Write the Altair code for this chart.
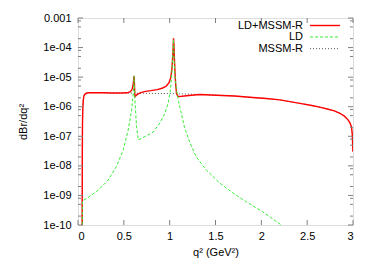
import altair as alt
import pandas as pd

# ---------------- data ----------------
q_total = [0.045, 0.047, 0.049, 0.053, 0.057, 0.063, 0.071, 0.086, 0.111, 0.171,
           0.270, 0.369, 0.468, 0.537, 0.572, 0.589, 0.599, 0.605, 0.609, 0.612,
           0.615, 0.618, 0.622, 0.629, 0.646, 0.686, 0.736, 0.795, 0.864, 0.924,
           0.964, 0.993, 1.013, 1.025, 1.035, 1.042, 1.047, 1.052, 1.058, 1.065,
           1.075, 1.092, 1.132, 1.211, 1.330, 1.509, 1.707, 1.905, 2.054, 2.203,
           2.421, 2.550, 2.649, 2.718, 2.797, 2.857, 2.906, 2.946, 2.968, 2.983,
           2.992, 2.999]
v_total = [1e-11, 3e-8, 3e-7, 9e-7, 1.6e-6, 2.2e-6, 2.55e-6, 2.8e-6, 2.95e-6, 3.0e-6,
           2.95e-6, 2.9e-6, 2.9e-6, 2.95e-6, 3.2e-6, 3.8e-6, 5e-6, 7e-6, 1.0e-5, 1.1e-5,
           7e-6, 3.5e-6, 2.2e-6, 2.3e-6, 2.6e-6, 3.0e-6, 3.3e-6, 3.5e-6, 3.8e-6, 4.3e-6,
           5e-6, 6.5e-6, 1e-5, 2e-5, 6e-5, 2.05e-4, 1.2e-4, 4e-5, 1.5e-5, 6e-6,
           2.8e-6, 2.2e-6, 2.25e-6, 2.4e-6, 2.6e-6, 2.45e-6, 2.3e-6, 2.05e-6, 1.9e-6, 1.7e-6,
           1.3e-6, 1.1e-6, 9.5e-7, 8.4e-7, 7.2e-7, 6e-7, 4.8e-7, 3.6e-7, 2.8e-7, 2.1e-7,
           1.2e-7, 3e-8]

q_ld = [0.045, 0.048, 0.057, 0.094, 0.220, 0.329, 0.418, 0.494, 0.547, 0.585,
        0.603, 0.611, 0.621, 0.639, 0.657, 0.676, 0.730, 0.821, 0.893, 0.948,
        0.983, 1.009, 1.025, 1.036, 1.042, 1.048, 1.056, 1.075, 1.097, 1.122,
        1.162, 1.221, 1.291, 1.400, 1.548, 1.692, 1.836, 2.014, 2.218, 2.401]
v_ld = [1e-11, 6e-10, 6.8e-10, 7.9e-10, 1.5e-9, 3.3e-9, 9.4e-9, 3.5e-8, 1.6e-7, 7.7e-7,
        2.8e-6, 1.1e-5, 1.7e-6, 2.1e-7, 7.6e-8, 8e-8, 9.8e-8, 1.4e-7, 2.8e-7, 6e-7,
        1.3e-6, 3.7e-6, 1.6e-5, 7e-5, 1.9e-4, 5e-5, 1.2e-5, 3.7e-6, 1.5e-6, 7e-7,
        2e-7, 6e-8, 2e-8, 7.2e-9, 2.6e-9, 1.2e-9, 6.1e-10, 2.8e-10, 1e-10, 4.5e-11]

q_mssm = [0.045, 0.047, 0.049, 0.053, 0.057, 0.063, 0.071, 0.086, 0.111, 0.171,
          0.270, 0.369, 0.468, 0.56, 0.66, 0.76, 0.86, 0.96, 1.06, 1.16,
          1.26, 1.33, 1.509, 1.707, 1.905, 2.054, 2.203, 2.421, 2.550, 2.649,
          2.718, 2.797, 2.857, 2.906, 2.946, 2.968, 2.983, 2.992, 2.999]
v_mssm = [1e-11, 3e-8, 3e-7, 9e-7, 1.6e-6, 2.2e-6, 2.55e-6, 2.8e-6, 2.95e-6, 3.0e-6,
          2.95e-6, 2.9e-6, 2.9e-6, 2.9e-6, 2.85e-6, 2.85e-6, 2.8e-6, 2.8e-6, 2.75e-6, 2.7e-6,
          2.65e-6, 2.6e-6, 2.45e-6, 2.3e-6, 2.05e-6, 1.9e-6, 1.7e-6, 1.3e-6, 1.1e-6, 9.5e-7,
          8.4e-7, 7.2e-7, 6e-7, 4.8e-7, 3.6e-7, 2.8e-7, 2.1e-7, 1.2e-7, 3e-8]

x_ticks = [0, 0.5, 1, 1.5, 2, 2.5, 3]
y_ticks = [1e-3, 1e-4, 1e-5, 1e-6, 1e-7, 1e-8, 1e-9, 1e-10]
y_labels = ["0.001", "1e-04", "1e-05", "1e-06", "1e-07", "1e-08", "1e-09", "1e-10"]
y_minor = [8e-4, 5e-4, 2e-4, 8e-5, 5e-5, 2e-5, 8e-6, 5e-6, 2e-6, 8e-7, 5e-7, 2e-7,
           8e-8, 5e-8, 2e-8, 8e-9, 5e-9, 2e-9, 8e-10, 5e-10, 2e-10]
legend_names = ["LD+MSSM-R", "LD", "MSSM-R"]
x_title = "q² (GeV²)"
y_title = "dBr/dq²"

# ---------------- chart ----------------
W, H = 275, 207
FONT = "Liberation Sans"
GRAY = "#808080"
RED = "#ff0000"
GREEN = "#33ee33"
DARK = "#555555"

xs = alt.Scale(domain=[0, 3], nice=False, zero=False)
ys = alt.Scale(type="log", domain=[1e-10, 1e-3], nice=False)

label_expr = "[" + ",".join("'%s'" % s for s in y_labels) + "][round(-log(datum.value)/LN10) - 3]"

x_axis = alt.Axis(values=x_ticks, format="~g", title=x_title, grid=False, domain=False,
                  ticks=False, tickSize=0, labelPadding=5, titlePadding=5,
                  labelFont=FONT, labelFontSize=11, labelColor="#000",
                  titleFont=FONT, titleFontSize=11, titleFontWeight="normal", titleColor="#000")
y_axis = alt.Axis(values=y_ticks, labelExpr=label_expr, title=y_title, grid=False, domain=False,
                  ticks=False, tickSize=0, labelPadding=7, titlePadding=14,
                  labelFont=FONT, labelFontSize=11, labelColor="#000",
                  titleFont=FONT, titleFontSize=11, titleFontWeight="normal", titleColor="#000")

X = lambda f: alt.X(f, scale=xs, axis=x_axis)
Y = lambda f: alt.Y(f, scale=ys, axis=y_axis)

df_total = pd.DataFrame({"q": q_total, "v": v_total})
df_ld = pd.DataFrame({"q": q_ld, "v": v_ld})
df_mssm = pd.DataFrame({"q": q_mssm, "v": v_mssm})

line_total = alt.Chart(df_total).mark_line(color=RED, strokeWidth=1.4, clip=True).encode(
    x=X("q:Q"), y=Y("v:Q"), order="q:Q")
line_ld = alt.Chart(df_ld).mark_line(color=GREEN, strokeWidth=1, strokeDash=[3, 2], clip=True).encode(
    x=X("q:Q"), y=Y("v:Q"), order="q:Q")
line_mssm = alt.Chart(df_mssm).mark_line(color=DARK, strokeWidth=1, strokeDash=[1, 2], clip=True).encode(
    x=X("q:Q"), y=Y("v:Q"), order="q:Q")

# inward ticks, mirrored like gnuplot
df_xt = pd.DataFrame({"q": x_ticks})
df_yt = pd.DataFrame({"v": y_ticks})
df_ym = pd.DataFrame({"v": y_minor})

def xtick(y0, y1):
    return alt.Chart(df_xt).mark_rule(color=GRAY, strokeWidth=1).encode(
        x=X("q:Q"), y=alt.value(y0), y2=alt.value(y1))

def ytick(df, x0, x1):
    return alt.Chart(df).mark_rule(color=GRAY, strokeWidth=1).encode(
        y=Y("v:Q"), x=alt.value(x0), x2=alt.value(x1))

ticks = [
    xtick(H, H - 5), xtick(0, 5),
    ytick(df_yt, 0, 5), ytick(df_yt, W - 5, W),
    ytick(df_ym, 0, 3), ytick(df_ym, W - 3, W),
]

# gnuplot-style key (text right-aligned, sample to the right)
rows_y = [7.5, 19, 30.7]
styles = [
    dict(color=RED, strokeWidth=1.4),
    dict(color=GREEN, strokeWidth=1, strokeDash=[3, 2]),
    dict(color=DARK, strokeWidth=1, strokeDash=[1, 2]),
]
legend_layers = []
for name, yy, st in zip(legend_names, rows_y, styles):
    d = pd.DataFrame({"name": [name]})
    legend_layers.append(
        alt.Chart(d).mark_text(align="right", baseline="middle", font=FONT, fontSize=11,
                               color="#000").encode(
            x=alt.value(225), y=alt.value(yy), text="name:N"))
    legend_layers.append(
        alt.Chart(d).mark_rule(**st).encode(
            x=alt.value(232), x2=alt.value(262), y=alt.value(yy)))

chart = alt.layer(line_mssm, line_total, line_ld, *ticks, *legend_layers).properties(
    width=W, height=H,
    autosize=alt.AutoSizeParams(type="none"),
    padding={"left": 70, "top": 10, "right": 16, "bottom": 40},
).configure_view(stroke=GRAY, strokeWidth=1).configure(background="white")

chart.save("out.html", embed_options={"renderer": "svg", "actions": False})
